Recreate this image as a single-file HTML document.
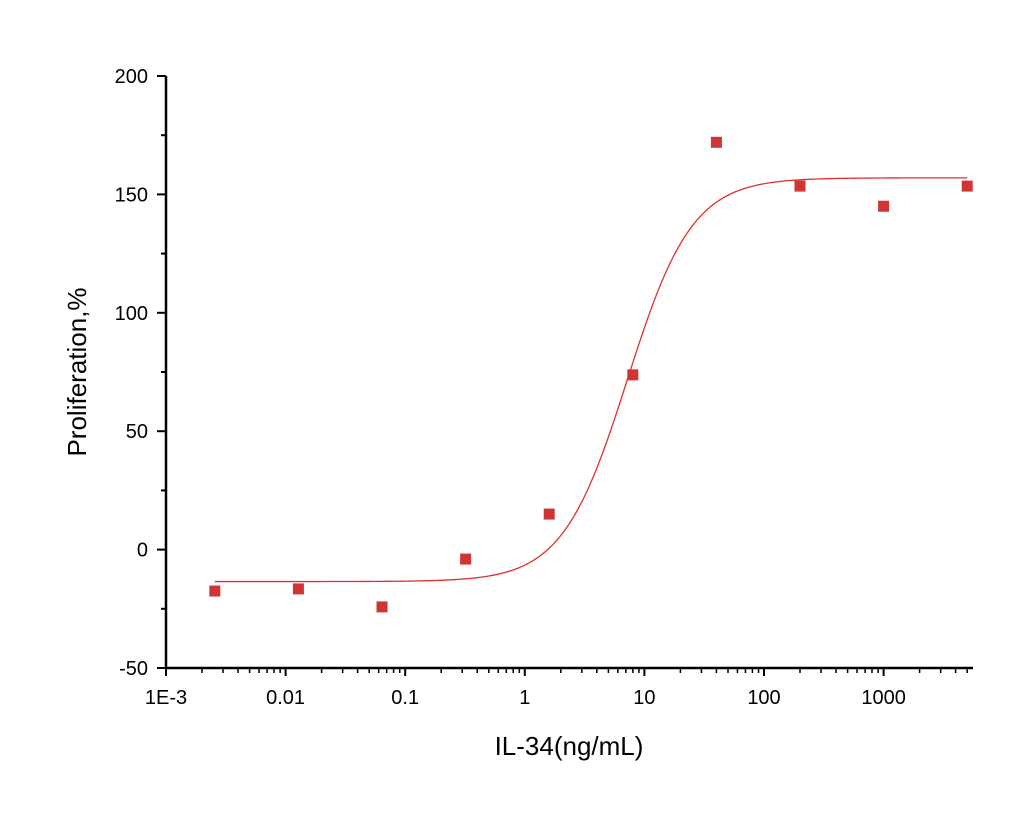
<!DOCTYPE html>
<html><head><meta charset="utf-8"><style>
html,body{margin:0;padding:0;background:#fff;}
svg text{font-family:"Liberation Sans",Arial,sans-serif;fill:#000;}
</style></head><body>
<svg id="chart" width="1028" height="818" viewBox="0 0 1028 818" xmlns="http://www.w3.org/2000/svg">
<g id="axes"></g><g id="series"></g>
<text x="569" y="755" font-size="26" text-anchor="middle">IL-34(ng/mL)</text>
<text transform="translate(86,372) rotate(-90)" font-size="26" text-anchor="middle">Proliferation,%</text>
</svg>
<script>
const concentrations=[0.00256,0.0128,0.064,0.32,1.6,8,40,200,1000,5000];
const proliferation=[-17.5,-16.6,-24.2,-4,15,73.8,172,153.5,145,153.5];
const fitParams=[-13.5,157,7.2,1.6]; // bottom, top, EC50, hill
const yTicks=[-50,0,50,100,150,200];
const xTickLabels=["1E-3","0.01","0.1","1","10","100","1000"];
const xTickValues=[0.001,0.01,0.1,1,10,100,1000];

const X0=166,X1=973,Y0=668,Y1=76;
const lx0=-3, pxPerDec=119.6;
function xs(v){return X0+(Math.log10(v)-lx0)*pxPerDec;}
function ys(v){return Y0-(v+50)/250*(Y0-Y1);}
const NS="http://www.w3.org/2000/svg";
function mk(tag,attrs,parent){const e=document.createElementNS(NS,tag);for(const k in attrs)e.setAttribute(k,attrs[k]);parent.appendChild(e);return e;}
const axesG=document.getElementById('axes'),seriesG=document.getElementById('series');

let l=mk('line',{x1:X0,y1:Y1,x2:X0,y2:Y0+1,stroke:'#000','stroke-width':2.5},axesG);


l=mk('line',{x1:X0-1,y1:Y0,x2:X1,y2:Y0,stroke:'#000','stroke-width':2.5},axesG);



yTicks.forEach((v,i)=>{
  const y=ys(v);
  const t=mk('line',{x1:X0-9,y1:y,x2:X0,y2:y,stroke:'#000','stroke-width':2},axesG);
  
  
  const tx=mk('text',{x:X0-18,y:y+7,'font-size':20,'text-anchor':'end'},axesG);
  tx.textContent=v;
  
  
  if(i<yTicks.length-1){
    const m=ys(v+25);
    const mt=mk('line',{x1:X0-5,y1:m,x2:X0,y2:m,stroke:'#000','stroke-width':2},axesG);
    
    
  }
});
xTickValues.forEach((v,i)=>{
  const x=xs(v);
  const t=mk('line',{x1:x,y1:Y0,x2:x,y2:Y0+8,stroke:'#000','stroke-width':2},axesG);
  
  
  const tx=mk('text',{x:x,y:Y0+36,'font-size':20,'text-anchor':'middle'},axesG);
  tx.textContent=xTickLabels[i];
  
  
  for(let k=2;k<=9;k++){
    const mx=xs(v*k); if(mx>X1) break;
    const mt=mk('line',{x1:mx,y1:Y0,x2:mx,y2:Y0+5,stroke:'#000','stroke-width':1.5},axesG);
    
    
  }
});

const fitBottom=fitParams[0],fitTop=fitParams[1],fitEC50=fitParams[2],fitHill=fitParams[3];
let d='';
const lmin=Math.log10(concentrations[0]),lmax=Math.log10(concentrations[concentrations.length-1]);
for(let i=0;i<=300;i++){
  const lv=lmin+(lmax-lmin)*i/300, c=Math.pow(10,lv);
  const yv=fitBottom+(fitTop-fitBottom)/(1+Math.pow(fitEC50/c,fitHill));
  d+=(i?'L':'M')+xs(c).toFixed(2)+','+ys(yv).toFixed(2);
}
const p=mk('path',{d:d,fill:'none',stroke:'#e03030','stroke-width':1.3},seriesG);


concentrations.forEach((c,i)=>{
  const r=mk('rect',{x:xs(c)-5.5,y:ys(proliferation[i])-5.5,width:11,height:11,fill:'#d03535'},seriesG);
  
  
});
</script>
</body></html>
